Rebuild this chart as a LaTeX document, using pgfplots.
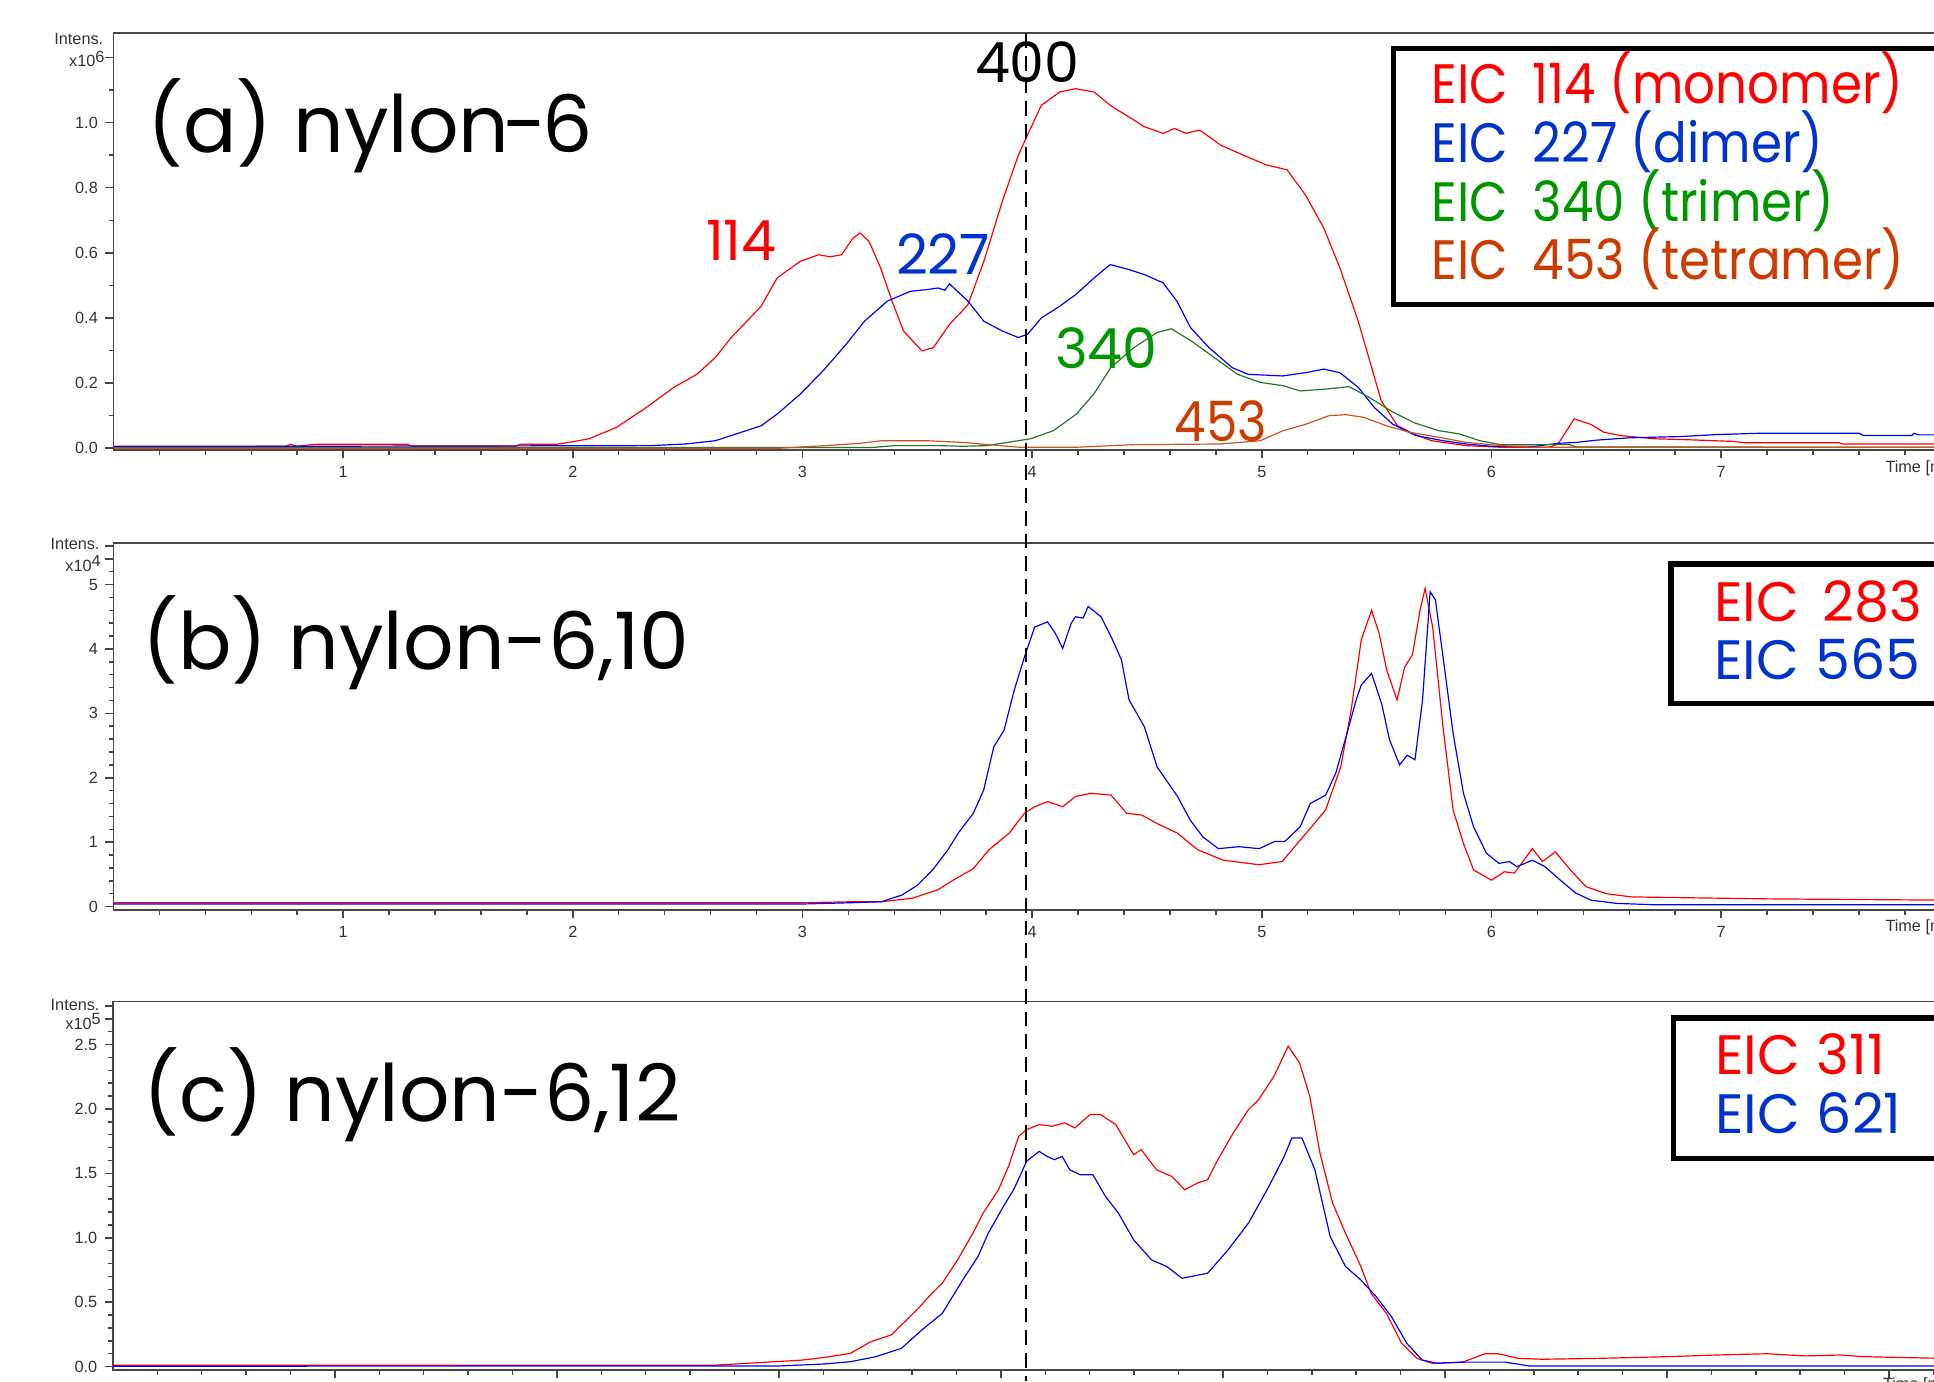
\documentclass[border=0pt]{standalone}
\usepackage{pgfplots}
\pgfplotsset{compat=1.18}
\usepackage{fontspec}
\setmainfont{Poppins}
\newfontfamily\tickfont{Liberation Sans}
\definecolor{cred}{RGB}{255,0,0}
\definecolor{cblue}{RGB}{0,0,245}
\definecolor{cgreen}{RGB}{40,115,40}
\definecolor{cbrown}{RGB}{200,85,35}
\definecolor{lred}{RGB}{255,0,0}
\definecolor{lblue}{RGB}{0,51,204}
\definecolor{lgreen}{RGB}{0,150,0}
\definecolor{lbrown}{RGB}{204,60,0}
\newcommand{\tkf}{\tickfont\fontsize{7.5}{9}\selectfont}
\newcommand{\ttlf}{\fontsize{36.5}{40}\selectfont}
\newcommand{\lgf}{\fontsize{25.6}{28}\selectfont}
\newcommand{\sq}[1]{\scalebox{0.90}[1]{#1}}
\pgfplotsset{
  chrom/.style={
    scale only axis, clip=false, anchor=south west,
    axis line style={draw=black!72, line width=0.8pt},
    tick align=outside, tick pos=left,
    major tick length=0.13cm, minor tick length=0.08cm,
    tick style={draw=black!72, line width=0.7pt},
    ticklabel style={font=\tkf, text=black!80},
    /pgf/number format/assume math mode=true,
    xmin=0,
  }
}
\begin{document}
\begin{tikzpicture}
\useasboundingbox (0,0) rectangle (31.36cm,22.4cm);
% ---------------- (a)
\begin{axis}[chrom, at={(1.84cm,15.1cm)}, width=29.65cm, height=6.764cm,
  xmax=7.962, ymin=-0.006, ymax=1.275,
  xtick={1,2,3,4,5,6,7}, minor xtick={0.2,0.4,0.6,0.8,1.2,1.4,1.6,1.8,2.2,2.4,2.6,2.8,3.2,3.4,3.6,3.8,4.2,4.4,4.6,4.8,5.2,5.4,5.6,5.8,6.2,6.4,6.6,6.8,7.2,7.4,7.6,7.8},
  ytick={0,0.2,0.4,0.6,0.8,1.0}, extra y ticks={1.2}, extra y tick labels={},
  minor ytick={0.1,0.3,0.5,0.7,0.9,1.1},
  yticklabel style={/pgf/number format/.cd, fixed, fixed zerofill, precision=1}]
\addplot[cred, line width=0.55pt] coordinates {(0,0.006) (0.75,0.006) (0.77,0.012) (0.8,0.006) (0.88,0.012) (1.28,0.012) (1.3,0.006) (1.75,0.006) (1.77,0.012) (1.93,0.012) (2.0,0.02) (2.07,0.029) (2.19,0.064) (2.32,0.125) (2.44,0.187) (2.54,0.227) (2.62,0.278) (2.69,0.34) (2.82,0.436) (2.89,0.523) (2.99,0.574) (3.07,0.594) (3.12,0.588) (3.17,0.594) (3.22,0.645) (3.25,0.661) (3.29,0.635) (3.34,0.554) (3.39,0.452) (3.44,0.36) (3.52,0.299) (3.57,0.309) (3.64,0.38) (3.72,0.44) (3.79,0.574) (3.87,0.758) (3.94,0.90) (3.98,0.962) (4.04,1.053) (4.12,1.094) (4.19,1.104) (4.27,1.094) (4.34,1.053) (4.42,1.018) (4.49,0.987) (4.57,0.967) (4.62,0.982) (4.67,0.967) (4.73,0.977) (4.82,0.931) (4.92,0.90) (5.02,0.87) (5.11,0.855) (5.19,0.778) (5.27,0.676) (5.34,0.554) (5.42,0.39) (5.47,0.268) (5.52,0.146) (5.59,0.07) (5.66,0.044) (5.74,0.023) (5.89,0.008) (6.04,0.003) (6.25,0.003) (6.29,0.013) (6.36,0.09) (6.43,0.074) (6.49,0.049) (6.56,0.039) (6.71,0.029) (6.86,0.026) (7.05,0.021) (7.1,0.017) (7.51,0.017) (7.53,0.013) (7.962,0.013)};
\addplot[cblue, line width=0.55pt] coordinates {(0,0.005) (2.34,0.008) (2.49,0.013) (2.62,0.023) (2.69,0.039) (2.82,0.069) (2.89,0.105) (2.99,0.166) (3.09,0.238) (3.19,0.319) (3.27,0.39) (3.37,0.452) (3.47,0.482) (3.54,0.487) (3.59,0.492) (3.62,0.485) (3.64,0.505) (3.72,0.452) (3.79,0.39) (3.87,0.36) (3.94,0.34) (3.98,0.35) (4.04,0.40) (4.12,0.436) (4.19,0.472) (4.27,0.523) (4.34,0.564) (4.42,0.549) (4.49,0.533) (4.57,0.508) (4.63,0.452) (4.69,0.37) (4.77,0.309) (4.87,0.248) (4.94,0.227) (5.09,0.222) (5.19,0.232) (5.27,0.243) (5.34,0.232) (5.42,0.187) (5.49,0.125) (5.57,0.074) (5.67,0.039) (5.79,0.023) (5.89,0.013) (6.0,0.006) (6.19,0.006) (6.29,0.015) (6.37,0.018) (6.46,0.025) (6.6,0.032) (6.83,0.036) (6.98,0.042) (7.17,0.046) (7.6,0.046) (7.62,0.039) (7.83,0.039) (7.84,0.046) (7.86,0.041) (7.962,0.041)};
\addplot[cgreen, line width=0.55pt] coordinates {(0,0.002) (3.3,0.002) (3.4,0.008) (3.6,0.008) (3.7,0.006) (3.8,0.008) (3.893,0.018) (3.993,0.029) (4.093,0.054) (4.193,0.105) (4.268,0.166) (4.343,0.248) (4.443,0.309) (4.543,0.355) (4.606,0.367) (4.694,0.329) (4.794,0.278) (4.894,0.227) (4.994,0.202) (5.093,0.192) (5.168,0.176) (5.268,0.181) (5.381,0.189) (5.468,0.156) (5.568,0.112) (5.664,0.078) (5.77,0.054) (5.86,0.044) (5.95,0.023) (6.04,0.011) (6.34,0.011) (6.37,0.004) (7.962,0.003)};
\addplot[cbrown, line width=0.55pt] coordinates {(0,0.0) (2.9,0.0) (3.1,0.008) (3.25,0.015) (3.343,0.023) (3.543,0.023) (3.693,0.018) (3.943,0.003) (4.193,0.003) (4.443,0.011) (4.818,0.013) (4.993,0.023) (5.093,0.054) (5.193,0.074) (5.293,0.10) (5.368,0.103) (5.443,0.095) (5.543,0.069) (5.643,0.049) (5.768,0.034) (5.89,0.018) (6.04,0.008) (6.2,0.003) (7.962,0.003)};
\end{axis}
% ---------------- (b)
\begin{axis}[chrom, at={(1.84cm,7.64cm)}, width=29.65cm, height=5.96cm,
  xmax=7.962, ymin=-0.057, ymax=5.65,
  xtick={1,2,3,4,5,6,7}, minor xtick={0.2,0.4,0.6,0.8,1.2,1.4,1.6,1.8,2.2,2.4,2.6,2.8,3.2,3.4,3.6,3.8,4.2,4.4,4.6,4.8,5.2,5.4,5.6,5.8,6.2,6.4,6.6,6.8,7.2,7.4,7.6,7.8},
  ytick={0,1,2,3,4,5}, extra y ticks={5.4,5.6}, extra y tick labels={},
  minor ytick={0.2,0.4,0.6,0.8,1.2,1.4,1.6,1.8,2.2,2.4,2.6,2.8,3.2,3.4,3.6,3.8,4.2,4.4,4.6,4.8,5.2}]
\addplot[cred, line width=0.55pt] coordinates {(0,0.06) (3.0,0.06) (3.211,0.075) (3.344,0.075) (3.478,0.13) (3.589,0.26) (3.656,0.41) (3.744,0.59) (3.811,0.88) (3.9,1.14) (3.967,1.45) (4.011,1.55) (4.067,1.63) (4.133,1.55) (4.189,1.71) (4.256,1.76) (4.344,1.73) (4.411,1.45) (4.478,1.42) (4.544,1.29) (4.633,1.14) (4.722,0.88) (4.833,0.72) (4.989,0.65) (5.089,0.70) (5.167,1.03) (5.278,1.50) (5.344,2.17) (5.389,3.05) (5.433,4.14) (5.478,4.60) (5.511,4.24) (5.544,3.67) (5.589,3.21) (5.622,3.72) (5.656,3.91) (5.689,4.60) (5.711,4.94) (5.744,4.34) (5.789,2.79) (5.833,1.50) (5.878,0.98) (5.922,0.57) (6.0,0.41) (6.056,0.54) (6.1,0.52) (6.178,0.90) (6.222,0.70) (6.278,0.85) (6.344,0.57) (6.411,0.31) (6.5,0.20) (6.611,0.15) (6.8,0.14) (7.2,0.12) (7.962,0.10)};
\addplot[cblue, line width=0.55pt] coordinates {(0,0.04) (3.0,0.04) (3.211,0.06) (3.344,0.075) (3.433,0.18) (3.5,0.33) (3.567,0.57) (3.633,0.88) (3.678,1.14) (3.744,1.45) (3.789,1.81) (3.833,2.48) (3.878,2.74) (3.922,3.36) (3.967,3.88) (4.011,4.34) (4.067,4.42) (4.1,4.25) (4.133,4.01) (4.17,4.4) (4.189,4.50) (4.222,4.48) (4.244,4.66) (4.3,4.50) (4.344,4.19) (4.389,3.83) (4.422,3.21) (4.489,2.79) (4.544,2.17) (4.633,1.71) (4.689,1.34) (4.744,1.08) (4.811,0.90) (4.9,0.93) (4.989,0.90) (5.056,1.01) (5.1,1.01) (5.167,1.24) (5.211,1.60) (5.278,1.73) (5.322,2.07) (5.367,2.64) (5.411,3.21) (5.433,3.44) (5.478,3.62) (5.522,3.15) (5.556,2.59) (5.6,2.20) (5.633,2.35) (5.667,2.28) (5.7,3.21) (5.733,4.89) (5.756,4.76) (5.789,3.88) (5.833,2.69) (5.878,1.76) (5.922,1.24) (5.978,0.83) (6.033,0.67) (6.078,0.70) (6.111,0.62) (6.178,0.72) (6.233,0.62) (6.3,0.41) (6.367,0.21) (6.433,0.10) (6.544,0.05) (6.696,0.03) (7.962,0.03)};
\end{axis}
% ---------------- (c)
\begin{axis}[chrom, at={(1.83cm,0.186cm)}, width=29.66cm, height=5.974cm,
  xmax=8.239, ymin=-0.026, ymax=2.834,
  xtick={1,2,3,4,5,6,7}, extra x ticks={8}, extra x tick labels={},
  minor xtick={0.2,0.4,0.6,0.8,1.2,1.4,1.6,1.8,2.2,2.4,2.6,2.8,3.2,3.4,3.6,3.8,4.2,4.4,4.6,4.8,5.2,5.4,5.6,5.8,6.2,6.4,6.6,6.8,7.2,7.4,7.6,7.8,8.2},
  ytick={0,0.5,1.0,1.5,2.0,2.5}, extra y ticks={2.7,2.8}, extra y tick labels={},
  minor ytick={0.1,0.2,0.3,0.4,0.6,0.7,0.8,0.9,1.1,1.2,1.3,1.4,1.6,1.7,1.8,1.9,2.1,2.2,2.3,2.4,2.6},
  yticklabel style={/pgf/number format/.cd, fixed, fixed zerofill, precision=1}]
\addplot[cred, line width=0.55pt] coordinates {(0,0.01) (2.7,0.01) (2.9,0.03) (3.1,0.05) (3.2,0.07) (3.322,0.103) (3.414,0.194) (3.506,0.246) (3.552,0.324) (3.621,0.44) (3.69,0.57) (3.736,0.648) (3.805,0.829) (3.874,1.036) (3.92,1.192) (3.989,1.373) (4.034,1.554) (4.08,1.787) (4.115,1.839) (4.172,1.879) (4.23,1.866) (4.287,1.892) (4.333,1.853) (4.402,1.957) (4.448,1.957) (4.517,1.879) (4.598,1.645) (4.632,1.684) (4.701,1.528) (4.77,1.476) (4.828,1.373) (4.885,1.425) (4.931,1.451) (4.977,1.606) (5.046,1.813) (5.115,1.995) (5.161,2.073) (5.23,2.254) (5.294,2.488) (5.345,2.358) (5.391,2.099) (5.437,1.658) (5.494,1.269) (5.552,1.036) (5.621,0.777) (5.667,0.57) (5.736,0.414) (5.805,0.181) (5.874,0.064) (5.943,0.026) (6.08,0.035) (6.18,0.10) (6.24,0.10) (6.33,0.064) (6.44,0.057) (6.69,0.064) (7.0,0.077) (7.22,0.09) (7.45,0.10) (7.62,0.083) (7.78,0.09) (7.89,0.077) (8.239,0.064)};
\addplot[cblue, line width=0.55pt] coordinates {(0,0.003) (3.0,0.005) (3.2,0.02) (3.322,0.038) (3.437,0.077) (3.552,0.142) (3.644,0.285) (3.736,0.414) (3.828,0.673) (3.897,0.855) (3.943,1.036) (4.011,1.243) (4.057,1.373) (4.092,1.503) (4.115,1.593) (4.172,1.671) (4.207,1.632) (4.241,1.606) (4.276,1.632) (4.31,1.528) (4.356,1.49) (4.414,1.49) (4.471,1.321) (4.529,1.192) (4.598,0.984) (4.678,0.829) (4.747,0.777) (4.816,0.686) (4.931,0.725) (5.023,0.906) (5.115,1.114) (5.207,1.399) (5.276,1.632) (5.31,1.774) (5.356,1.774) (5.414,1.528) (5.483,1.01) (5.552,0.777) (5.621,0.673) (5.69,0.544) (5.759,0.388) (5.828,0.181) (5.897,0.051) (5.966,0.026) (6.09,0.035) (6.27,0.035) (6.38,0.005) (8.239,0.005)};
\end{axis}
% ---------------- annotations (picture units: 0.02cm)
\begin{scope}[x=0.02cm,y=0.02cm]
\draw[black, line width=1pt, dash pattern=on 6.8pt off 3.7pt] (831.5,1093) -- (831.5,0);
\node[anchor=east, font=\tkf, text=black!80, inner sep=0pt] at (84,1088) {Intens.};
\node[anchor=base east, font=\tkf, text=black!80, inner sep=0pt] at (85,1065.5) {x10\raisebox{0.3em}{6}};
\node[anchor=east, font=\tkf, text=black!80, inner sep=0pt] at (81,678.5) {Intens.};
\node[anchor=base east, font=\tkf, text=black!80, inner sep=0pt] at (82,656.5) {x10\raisebox{0.3em}{4}};
\node[anchor=east, font=\tkf, text=black!80, inner sep=0pt] at (81,305.5) {Intens.};
\node[anchor=base east, font=\tkf, text=black!80, inner sep=0pt] at (82,285.5) {x10\raisebox{0.3em}{5}};
\node[anchor=west, font=\tkf, text=black!80, inner sep=0pt] at (1528,740.3) {Time [min]};
\node[anchor=west, font=\tkf, text=black!80, inner sep=0pt] at (1528,368) {Time [min]};
\node[anchor=north west, font=\tkf, text=black!80, inner sep=0pt] at (1526,3) {Time [min]};
\node[anchor=base west, font=\ttlf, inner sep=0pt] at (119,996) {(a) nylon\kern-0.08em-\kern-0.06em6};
\node[anchor=base west, font=\ttlf, inner sep=0pt] at (115,577) {(b) nylon-6,10};
\node[anchor=base west, font=\ttlf, inner sep=0pt] at (116,211) {(c) nylon-6,12};
\node[anchor=base west, font=\lgf, text=lred, inner sep=0pt] at (572,909) {114};
\node[anchor=base west, font=\lgf, text=lblue, inner sep=0pt] at (726,897) {227};
\node[anchor=base west, font=\lgf, text=lgreen, inner sep=0pt] at (855,821.4) {340};
\node[anchor=base west, font=\lgf, text=lbrown, inner sep=0pt] at (952,762) {\sq{453}};
\node[anchor=base west, font=\lgf, text=black, inner sep=0pt] at (790,1053) {400};
\draw[black, line width=2.5pt] (1580,1080.5) -- (1129.5,1080.5) -- (1129.5,873) -- (1580,873);
\node[anchor=base west, font=\lgf, text=lred, inner sep=0pt] at (1160,1036.2) {\sq{EIC\hspace{0.5em}114 (monomer)}};
\node[anchor=base west, font=\lgf, text=lblue, inner sep=0pt] at (1160,988) {\sq{EIC\hspace{0.5em}227 (dimer)}};
\node[anchor=base west, font=\lgf, text=lgreen, inner sep=0pt] at (1160,940) {\sq{EIC\hspace{0.5em}340 (trimer)}};
\node[anchor=base west, font=\lgf, text=lbrown, inner sep=0pt] at (1160,893) {\sq{EIC\hspace{0.5em}453 (tetramer)}};
\draw[black, line width=2.5pt] (1580,662.5) -- (1354.5,662.5) -- (1354.5,549.5) -- (1580,549.5);
\node[anchor=base west, font=\lgf, text=lred, inner sep=0pt] at (1389,616) {EIC\hspace{0.42em}283};
\node[anchor=base west, font=\lgf, text=lblue, inner sep=0pt] at (1389,569) {EIC\hspace{0.3em}565};
\draw[black, line width=2.5pt] (1580,294.5) -- (1356.5,294.5) -- (1356.5,180.5) -- (1580,180.5);
\node[anchor=base west, font=\lgf, text=lred, inner sep=0pt] at (1390,248.4) {EIC\hspace{0.3em}311};
\node[anchor=base west, font=\lgf, text=lblue, inner sep=0pt] at (1390,201) {EIC\hspace{0.3em}621};
\end{scope}
\end{tikzpicture}
\end{document}
